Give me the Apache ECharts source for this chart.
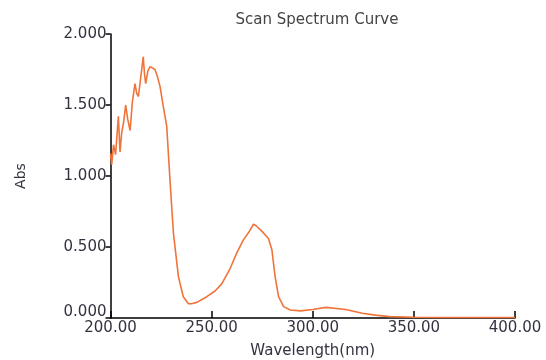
<!DOCTYPE html>
<html>
<head>
<meta charset="utf-8">
<script src="https://cdn.jsdelivr.net/npm/echarts@6/dist/echarts.min.js"></script>
<style>html,body{margin:0;padding:0;background:#fff}#c{width:546px;height:360px}</style>
</head>
<body>
<div id="c"></div>
<script>
const chartTitle = 'Scan Spectrum Curve';
const xName = 'Wavelength(nm)';
const yName = 'Abs';
const wavelengths = [200, 200.6, 201.5, 202.5, 203.9, 204.7, 205.5, 206.5, 207.5, 208.5, 209.7, 210.8, 212.1, 213, 213.8, 215, 216.2, 216.8, 217.4, 218.5, 219.6, 220.4, 222, 223.2, 224.5, 226.1, 227.8, 229.5, 231.1, 233.6, 236, 238.5, 240, 242.7, 247.6, 251.7, 255, 259.2, 262.5, 265.7, 268.2, 270.7, 272, 274.9, 278.1, 279.8, 281.4, 283.1, 285.6, 288.9, 294, 300, 306.5, 316.3, 324.5, 331, 338, 350, 365, 380, 400];
const absorbance = [1.16, 1.08, 1.22, 1.15, 1.42, 1.17, 1.30, 1.38, 1.50, 1.40, 1.32, 1.52, 1.65, 1.58, 1.56, 1.70, 1.84, 1.72, 1.65, 1.74, 1.77, 1.78, 1.75, 1.70, 1.63, 1.49, 1.35, 0.95, 0.60, 0.29, 0.15, 0.10, 0.10, 0.11, 0.15, 0.19, 0.24, 0.35, 0.46, 0.55, 0.60, 0.66, 0.65, 0.61, 0.56, 0.48, 0.29, 0.15, 0.08, 0.056, 0.05, 0.06, 0.075, 0.06, 0.033, 0.02, 0.01, 0.005, 0.004, 0.003, 0.003];

const txt = '#333340';
const font = 'DejaVu Sans';
const chart = echarts.init(document.getElementById('c'), null, {renderer: 'canvas'});
chart.setOption({
  animation: false,
  backgroundColor: '#fff',
  title: {
    text: chartTitle, left: 312, top: 8, textAlign: 'center',
    textStyle: {fontSize: 15, fontWeight: 'normal', color: '#444', fontFamily: font}
  },
  grid: {left: 110.5, right: 31, top: 34, bottom: 42, containLabel: false, outerBoundsMode: 'none'},
  xAxis: {
    type: 'value', min: 200, max: 400, interval: 50,
    name: xName, nameLocation: 'middle', nameGap: 26,
    nameTextStyle: {fontSize: 15, color: txt, fontFamily: font},
    axisLine: {show: true, lineStyle: {color: '#000', width: 1.5}},
    axisTick: {show: true, inside: true, length: 7, lineStyle: {color: '#000', width: 1.5}},
    splitLine: {show: false},
    axisLabel: {fontSize: 15, color: txt, margin: 3, fontFamily: font, formatter: v => v.toFixed(2)}
  },
  yAxis: {
    type: 'value', min: 0, max: 2, interval: 0.5,
    name: yName, nameLocation: 'middle', nameGap: 82, nameRotate: 90,
    nameTextStyle: {fontSize: 14, color: txt, fontFamily: font},
    axisLine: {show: true, lineStyle: {color: '#000', width: 1.5}},
    axisTick: {show: true, inside: false, length: 5, lineStyle: {color: '#000', width: 1.5}},
    splitLine: {show: false},
    axisLabel: {
      fontSize: 15, color: txt, margin: 4, fontFamily: font,
      formatter: v => v === 0 ? '{z|0.000}' : v.toFixed(3),
      rich: {z: {fontSize: 15, color: txt, fontFamily: font, padding: [0, 0, 12, 0]}}
    }
  },
  series: [{
    type: 'line',
    data: wavelengths.map((w, i) => [w, absorbance[i]]),
    showSymbol: false,
    smooth: false,
    lineStyle: {color: '#f0743a', width: 1.6},
    itemStyle: {color: '#f0743a'}
  }]
});
</script>
</body>
</html>
